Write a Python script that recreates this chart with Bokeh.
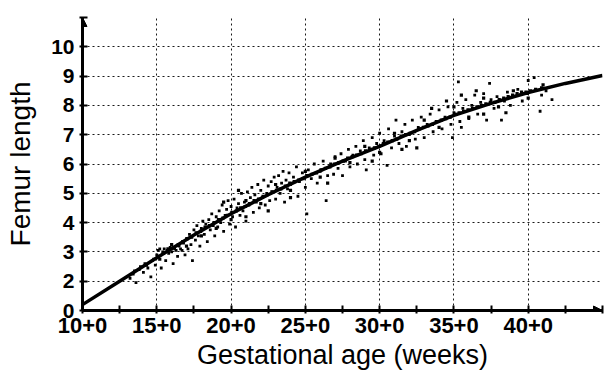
from bokeh.plotting import figure
from bokeh.models import Range1d, FixedTicker, ColumnDataSource, Arrow, NormalHead
from bokeh.embed import file_html
from bokeh.resources import INLINE

# ---- data (y in the chart's own label units, axis base labelled "0") ----
x_ticks = [10, 15, 20, 25, 30, 35, 40, 45]
x_tick_labels = ["10+0", "15+0", "20+0", "25+0", "30+0", "35+0", "40+0", ""]
x_minor = [12.5, 17.5, 22.5, 27.5, 32.5, 37.5, 42.5]
y_ticks = [1, 2, 3, 4, 5, 6, 7, 8, 9, 10, 11]
y_tick_labels = ["0", "2", "3", "4", "5", "6", "7", "8", "9", "10", ""]

curve_x = [10, 12.5, 15, 17.5, 20, 22.5, 25, 27.5, 30, 32.5, 35, 37.5, 40, 42.5, 45]
curve_y = [1.2, 2.0, 2.8, 3.58, 4.3, 4.95, 5.55, 6.1, 6.6, 7.15, 7.66, 8.07, 8.44, 8.75, 9.02]

# scattered measurements
obs_x = [13.2, 13.5, 13.6, 13.9, 14.1, 14.2, 14.4, 14.6, 14.7, 14.9, 15.0, 15.1, 15.2, 15.3, 15.4,
         15.5, 15.6, 15.7, 15.8, 15.9, 16.0, 16.1, 16.2, 16.3, 16.4, 16.5, 16.6, 16.7, 16.8, 16.9,
         17.0, 17.1, 17.2, 17.3, 17.4, 17.5, 17.6, 17.7, 17.8, 17.9, 18.0, 18.1, 18.2, 18.3, 18.4,
         18.5, 18.6, 18.7, 18.8, 18.9, 19.0, 19.1, 19.2, 19.3, 19.4, 19.5, 19.6, 19.7, 19.8, 19.9,
         20.0, 20.1, 20.2, 20.3, 20.4, 20.5, 20.6, 20.7, 20.8, 20.9, 21.0, 21.1, 21.2, 21.3, 21.4,
         21.5, 21.6, 21.7, 21.8, 21.9, 22.0, 22.1, 22.2, 22.3, 22.4, 22.5, 22.6, 22.7, 22.8, 22.9,
         23.0, 23.1, 23.2, 23.3, 23.4, 23.5, 23.6, 23.7, 23.8, 23.9, 24.0, 24.2, 24.4, 24.5, 24.6,
         24.8, 25.0, 25.1, 25.2, 25.4, 25.6, 25.8, 26.0, 26.2, 26.4, 26.5, 26.7, 26.9, 27.0, 27.2,
         27.4, 27.5, 27.7, 27.9, 28.0, 28.2, 28.4, 28.5, 28.7, 28.9, 29.0, 29.1, 29.3, 29.5, 29.6,
         29.8, 30.0, 30.1, 30.3, 30.5, 30.6, 30.8, 31.0, 31.1, 31.3, 31.5, 31.7, 31.8, 32.0, 32.2,
         32.4, 32.6, 32.8, 33.0, 33.2, 33.4, 33.6, 33.8, 34.0, 34.2, 34.4, 34.6, 34.8, 34.9, 35.0,
         35.2, 35.3, 35.4, 35.5, 35.6, 35.8, 36.0, 36.2, 36.4, 36.6, 36.8, 37.0, 37.2, 37.4, 37.5,
         37.7, 37.9, 38.2, 38.4, 38.6, 38.8, 39.0, 39.3, 39.6, 39.9, 40.0, 40.4, 40.8, 40.9, 41.2,
         41.6]
obs_y = [2.1, 2.35, 1.95, 2.5, 2.3, 2.6, 2.45, 2.15, 2.7, 2.55, 2.9, 3.05, 3.1, 2.45, 3.0,
         3.1, 2.7, 3.05, 2.95, 3.15, 3.0, 2.6, 3.1, 3.05, 2.85, 3.2, 3.1, 3.05, 3.3, 2.9,
         3.45, 3.1, 3.6, 3.25, 2.7, 3.75, 3.4, 3.9, 3.55, 3.2, 3.8, 4.05, 3.6, 3.95, 3.35,
         4.1, 3.75, 4.3, 3.9, 3.55, 4.2, 3.85, 4.4, 4.0, 4.6, 3.7, 4.25, 4.45, 4.75, 3.95,
         4.55, 4.2, 4.8, 3.85, 4.5, 4.65, 4.25, 5.0, 4.4, 4.7, 4.05, 5.05, 4.6, 4.85, 5.2,
         4.35, 4.95, 4.7, 5.3, 4.5, 5.1, 4.85, 5.45, 4.6, 5.0, 5.25, 4.75, 5.4, 5.05, 5.55,
         4.8, 5.2, 5.6, 5.0, 5.35, 5.75, 4.7, 5.45, 5.15, 5.7, 5.3, 5.55, 5.9, 4.9, 5.4,
         5.7, 5.2, 4.3, 5.8, 5.5, 6.0, 5.35, 5.75, 6.1, 4.75, 5.6, 6.0, 5.65, 6.25, 5.85,
         6.35, 5.6, 6.1, 6.5, 5.9, 6.3, 6.6, 6.0, 6.45, 6.8, 6.15, 5.8, 6.55, 6.9, 6.3,
         6.7, 7.05, 6.35, 6.8, 5.95, 7.2, 6.55, 6.95, 7.5, 6.7, 7.1, 7.35, 6.6, 7.0, 7.5,
         6.85, 7.25, 7.6, 6.9, 7.35, 7.7, 7.1, 7.45, 7.85, 7.2, 7.6, 7.95, 7.35, 6.9, 7.75,
         8.1, 8.8, 7.45, 7.25, 7.9, 8.2, 7.55, 8.0, 8.35, 7.7, 8.1, 8.4, 7.5, 8.75, 8.2,
         7.9, 8.3, 7.5, 8.15, 8.45, 8.0, 8.3, 8.55, 8.15, 8.4, 8.85, 8.95, 7.8, 8.35, 8.5,
         8.2]

# the dense band of measurements that hugs the fitted curve
band_x = [13.4, 13.8, 14.3, 14.8, 15.05, 15.45, 15.75, 16.15, 16.45, 16.75, 17.05, 17.35, 17.65,
          17.95, 18.25, 18.55, 18.85, 19.15, 19.45, 19.75, 20.05, 20.35, 20.65, 20.95, 21.25,
          21.55, 21.85, 22.15, 22.45, 22.75, 23.05, 23.35, 23.65, 23.95, 24.25, 24.55, 24.85,
          25.15, 25.45, 25.75, 26.05, 26.35, 26.65, 26.95, 27.25, 27.55, 27.85, 28.15, 28.45,
          28.75, 29.05, 29.35, 29.65, 29.95, 30.25, 30.55, 30.85, 31.15, 31.45, 31.75, 32.05,
          32.35, 32.65, 32.95, 33.25, 33.55, 33.85, 34.15, 34.45, 34.75, 35.05, 35.35, 35.65,
          35.95, 36.25, 36.55, 36.85, 37.15, 37.45, 37.75, 38.05, 38.35, 38.65, 38.95, 39.25,
          39.55, 39.85, 40.15, 40.5, 40.9,
          15.2, 16.0, 17.0, 18.0, 19.0, 20.0, 21.0, 22.0, 23.0, 24.0, 25.0, 26.0, 27.0, 28.0,
          29.0, 30.0, 31.0, 32.0, 33.0, 34.0, 35.0, 36.0, 37.0, 38.0, 39.0, 40.0, 41.0, 33.5,
          34.5, 35.5, 36.5, 37.0, 38.5, 31.5, 32.5, 29.5, 26.5, 24.0, 22.5, 21.0, 19.5, 20.5]
band_y = [2.25, 2.4, 2.55, 2.75, 2.85, 2.95, 3.1, 3.15, 3.25, 3.35, 3.45, 3.5, 3.65,
          3.7, 3.85, 3.9, 4.0, 4.1, 4.15, 4.25, 4.35, 4.4, 4.5, 4.55, 4.65,
          4.75, 4.8, 4.9, 4.95, 5.05, 5.1, 5.15, 5.25, 5.35, 5.4, 5.45, 5.5,
          5.6, 5.65, 5.7, 5.8, 5.85, 5.9, 6.0, 6.05, 6.1, 6.2, 6.25, 6.3,
          6.35, 6.45, 6.5, 6.55, 6.6, 6.7, 6.75, 6.8, 6.85, 6.95, 7.0, 7.05,
          7.1, 7.2, 7.25, 7.3, 7.35, 7.45, 7.5, 7.55, 7.6, 7.7, 7.75, 7.8,
          7.85, 7.9, 7.95, 8.0, 8.05, 8.1, 8.1, 8.2, 8.25, 8.3, 8.35, 8.4,
          8.45, 8.45, 8.5, 8.55, 8.6,
          2.75, 3.25, 3.2, 3.55, 3.8, 4.1, 4.75, 4.65, 5.3, 5.1, 5.75, 5.55, 6.2, 6.05,
          6.6, 6.4, 7.05, 6.8, 7.5, 7.25, 7.95, 7.6, 8.25, 7.95, 8.5, 8.25, 8.7, 7.9,
          8.15, 8.35, 8.5, 7.7, 7.75, 6.5, 6.55, 6.1, 5.35, 4.85, 4.4, 4.2, 4.7, 5.1]

# ---- figure ----
x_lo, x_hi = x_ticks[0], x_ticks[-1]
y_lo, y_hi = y_ticks[0], y_ticks[-1]

p = figure(width=607, height=378, x_range=Range1d(x_lo, x_hi), y_range=Range1d(y_lo, y_hi),
           output_backend="svg", toolbar_location=None,
           min_border_left=82, min_border_right=5, min_border_top=17, min_border_bottom=68)
p.outline_line_color = None
p.background_fill_color = "white"
p.border_fill_color = "white"

# grid
p.xgrid.ticker = FixedTicker(ticks=x_ticks[1:])
p.ygrid.ticker = FixedTicker(ticks=y_ticks[1:])
for g in (p.xgrid, p.ygrid):
    g.grid_line_color = "black"
    g.grid_line_width = 1
    g.grid_line_dash = "2 3"
    g.grid_line_alpha = 0.9

# axes
xa = p.xaxis[0]
xa.ticker = FixedTicker(ticks=x_ticks, minor_ticks=x_minor)
xa.major_label_overrides = {t: l for t, l in zip(x_ticks, x_tick_labels)}
ya = p.yaxis[0]
ya.ticker = FixedTicker(ticks=y_ticks)
ya.major_label_overrides = {t: l for t, l in zip(y_ticks, y_tick_labels)}

for ax in (xa, ya):
    ax.axis_line_color = "black"
    ax.axis_line_width = 3
    ax.major_tick_line_color = "black"
    ax.major_tick_line_width = 2
    ax.major_tick_in = 5
    ax.major_tick_out = 3
    ax.major_label_text_font = "Liberation Sans"
    ax.major_label_text_font_style = "bold"
    ax.major_label_text_color = "black"
    ax.axis_label_text_font = "Liberation Sans"
    ax.axis_label_text_font_style = "normal"
    ax.axis_label_text_color = "black"

xa.major_label_text_font_size = "22px"
xa.minor_tick_line_color = "black"
xa.minor_tick_line_width = 2
xa.minor_tick_in = 5
xa.minor_tick_out = 3
xa.major_label_standoff = 4
xa.axis_label = "Gestational age (weeks)"
xa.axis_label_text_font_size = "27px"
xa.axis_label_standoff = 4

ya.major_label_text_font_size = "21px"
ya.minor_tick_line_color = None
ya.major_label_standoff = 5
ya.axis_label = "Femur length"
ya.axis_label_text_font_size = "28px"
ya.axis_label_standoff = 12

# data
src = ColumnDataSource(dict(x=obs_x, y=obs_y))
p.scatter("x", "y", source=src, marker="square", size=2.8, color="black", line_width=0)
band = ColumnDataSource(dict(x=band_x, y=band_y))
p.scatter("x", "y", source=band, marker="square", size=3.2, color="black", line_width=0)
p.line(curve_x, curve_y, line_color="black", line_width=3.5)

# axis arrow heads
p.add_layout(Arrow(end=NormalHead(size=9, fill_color="black", line_color="black"),
                   x_start=x_hi - 0.6, y_start=y_lo, x_end=x_hi, y_end=y_lo,
                   line_color="black", line_width=3))
p.add_layout(Arrow(end=NormalHead(size=9, fill_color="black", line_color="black"),
                   x_start=x_lo, y_start=y_hi - 0.3, x_end=x_lo, y_end=y_hi,
                   line_color="black", line_width=3))

open("out.html", "w").write(file_html(p, INLINE))
